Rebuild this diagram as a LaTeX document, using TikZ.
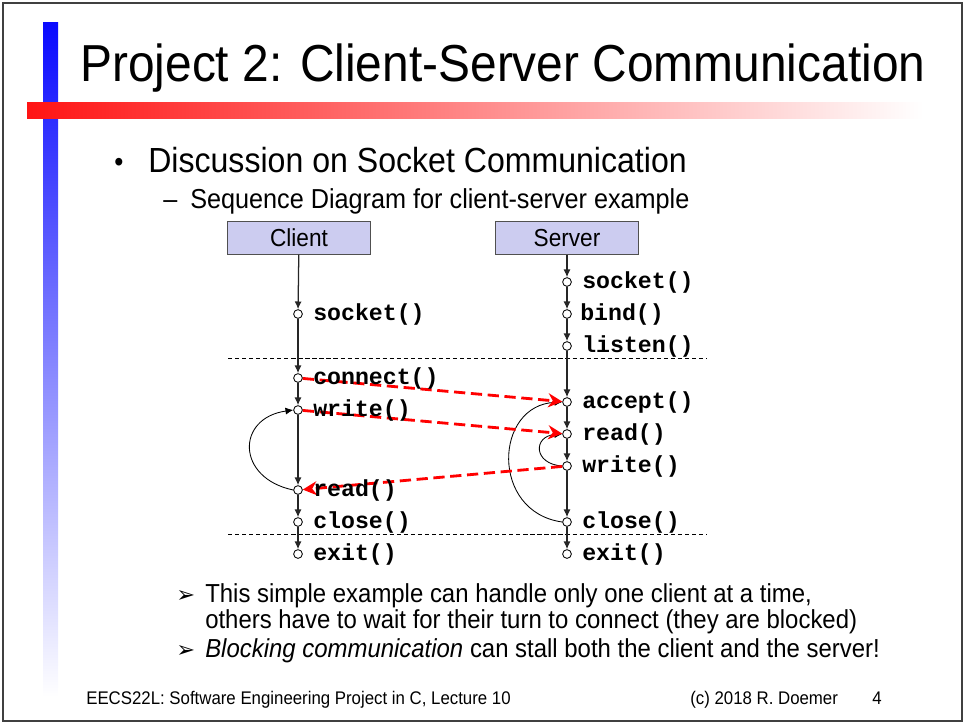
\documentclass[tikz,border=0pt]{standalone}
\usepackage{fontspec}
\setmainfont{Liberation Sans}[FakeStretch=0.92]
\setmonofont{Liberation Mono}
\newfontfamily\dingfont{DejaVu Sans}
\usetikzlibrary{arrows.meta,positioning}
\definecolor{boxfill}{RGB}{204,204,240}
\definecolor{boxline}{RGB}{80,80,80}
\definecolor{slideblue}{RGB}{10,10,255}
\definecolor{slidered}{RGB}{255,20,20}
\tikzset{
    >={Latex[length=5.5pt,width=5pt]},
    actor/.style={draw=boxline,fill=boxfill,line width=0.7pt,minimum width=102pt,minimum height=23pt,inner sep=0pt,font=\fontsize{17.5}{19}\selectfont},
    event/.style={circle,draw,fill=white,line width=0.6pt,inner sep=0pt,minimum size=6.2pt},
    call/.style={anchor=west,inner sep=0pt,font=\fontsize{16.5}{18}\ttfamily\bfseries},
    flow/.style={->,line width=0.9pt,black!85},
    loopback/.style={->,line width=0.6pt},
    msg/.style={-{Stealth[length=10pt,width=10pt]},red,line width=2pt,dash pattern=on 8pt off 4pt},
    phase/.style={line width=0.6pt,dash pattern=on 3pt off 2pt},
    slidetext/.style={anchor=base west,inner sep=0pt}
}
\begin{document}
\begin{tikzpicture}[x=0.025cm,y=-0.025cm]
    \useasboundingbox (0,0) rectangle (965,724);
    % slide frame and bars
    \draw[line width=1.4pt,black!75] (3,3) rectangle (962,721);
    \shade[top color=slideblue,bottom color=white] (43,22) rectangle (58,697);
    \shade[left color=slidered,right color=white] (27,102) rectangle (923,118);
    \node[slidetext,font=\fontsize{37}{44}\selectfont] (title) at (80,81) {Project 2: Client-Server Communication};
    \node[slidetext,font=\fontsize{20}{22}\selectfont] (bulletdot) at (114,171) {•};
    \node[slidetext,font=\fontsize{24.8}{28}\selectfont] (bullet) at (148,172) {Discussion on Socket Communication};
    \node[slidetext,font=\fontsize{19.5}{22}\selectfont] (subdash) at (163,208) {–};
    \node[slidetext,font=\fontsize{19.5}{22}\selectfont] (subbullet) at (190,208) {Sequence Diagram for client-server example};

    % actors
    \node[actor] (client) at (299,238) {Client};
    \node[actor] (server) at (567,238) {Server};

    % events on the client lifeline
    \node[event] (csocket) at (298,314) {};
    \node[event] (cconnect) at (298,378) {};
    \node[event] (cwrite) at (298,410) {};
    \node[event] (cread) at (298,490) {};
    \node[event] (cclose) at (298,522) {};
    \node[event] (cexit) at (298,554) {};
    % events on the server lifeline
    \node[event] (ssocket) at (567,282) {};
    \node[event] (sbind) at (567,314) {};
    \node[event] (slisten) at (567,346) {};
    \node[event] (saccept) at (567,402) {};
    \node[event] (sread) at (567,434) {};
    \node[event] (swrite) at (567,466) {};
    \node[event] (sclose) at (567,522) {};
    \node[event] (sexit) at (567,554) {};

    % phase separators
    \coordinate (phasea1) at (228,358);
    \coordinate (phasea2) at (707,358);
    \coordinate (phaseb1) at (228,534);
    \coordinate (phaseb2) at (707,534);
    \draw[phase] (phasea1) -- (phasea2);
    \draw[phase] (phaseb1) -- (phaseb2);

    \path
        (client) edge [flow] (csocket)
        (csocket) edge [flow] (cconnect)
        (cconnect) edge [flow] (cwrite)
        (cwrite) edge [flow] (cread)
        (cread) edge [flow] (cclose)
        (cclose) edge [flow] (cexit)
        (server) edge [flow] (ssocket)
        (ssocket) edge [flow] (sbind)
        (sbind) edge [flow] (slisten)
        (slisten) edge [flow] (saccept)
        (saccept) edge [flow] (sread)
        (sread) edge [flow] (swrite)
        (swrite) edge [flow] (sclose)
        (sclose) edge [flow] (sexit);
    \draw[loopback] (cread.west) .. controls (236,478) and (236,418) .. (cwrite.west);
    \draw[loopback] (sclose.west) .. controls (490,512) and (494,405) .. (saccept.west);
    \draw[loopback] (swrite.west) .. controls (533,464) and (533,436) .. (sread.west);

    % messages
    \path
        (cconnect) edge [msg] (saccept)
        (cwrite) edge [msg] (sread)
        (swrite) edge [msg] (cread);

    % call labels
    \node[call] (csocketl) at (313,314) {socket()};
    \node[call] (cconnectl) at (313,378) {connect()};
    \node[call] (cwritel) at (313,410) {write()};
    \node[call] (creadl) at (313,490) {read()};
    \node[call] (ccloset) at (313,522) {close()};
    \node[call] (cexitl) at (313,554) {exit()};
    \node[call] (ssocketl) at (582,282) {socket()};
    \node[call] (sbindl) at (580,314) {bind()};
    \node[call] (slistenl) at (582,346) {listen()};
    \node[call] (sacceptl) at (582,402) {accept()};
    \node[call] (sreadl) at (582,434) {read()};
    \node[call] (swritel) at (582,466) {write()};
    \node[call] (sclosel) at (582,522) {close()};
    \node[call] (sexitl) at (582,554) {exit()};

    % remarks
    \node[slidetext,font=\fontsize{16}{16}\dingfont] (marka) at (176,602) {➢};
    \node[slidetext,font=\fontsize{18.5}{20}\selectfont] (remarka) at (205,602) {This simple example can handle only one client at a time,};
    \node[slidetext,font=\fontsize{18.5}{20}\selectfont] (remarkb) at (205,628) {others have to wait for their turn to connect (they are blocked)};
    \node[slidetext,font=\fontsize{16}{16}\dingfont] (markb) at (176,657) {➢};
    \node[slidetext,font=\fontsize{18.5}{20}\selectfont] (remarkc) at (205,657) {\textit{Blocking communication} can stall both the client and the server!};

    % footer
    \node[slidetext,font=\fontsize{13}{14}\selectfont] (footer) at (86,704) {EECS22L: Software Engineering Project in C, Lecture 10};
    \node[slidetext,font=\fontsize{13}{14}\selectfont] (copyright) at (690,704) {(c) 2018 R. Doemer};
    \node[slidetext,font=\fontsize{13}{14}\selectfont] (pagenum) at (872,704) {4};
\end{tikzpicture}
\end{document}
